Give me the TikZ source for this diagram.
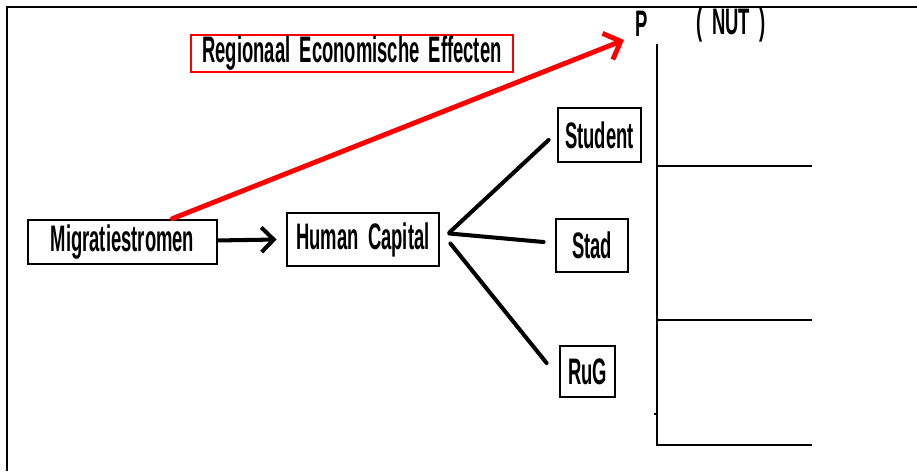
\documentclass[tikz,border=0pt]{standalone}
\usepackage{fontspec}
\setmainfont{Liberation Sans}[FakeStretch=0.5, WordSpace=1.8]
\usetikzlibrary{arrows.meta,positioning}

\begin{document}
\begin{tikzpicture}[x=0.02cm, y=-0.02cm,
  box/.style={draw, line width=1.6pt, inner sep=0pt, align=center},
  redbox/.style={draw=red, line width=1pt, inner sep=0pt, align=center},
  link/.style={line width=2.3pt, line cap=round},
  arr/.style={-{Straight Barb[length=7pt, width=14pt]}, line width=2.3pt, line cap=round},
  redarr/.style={-{Straight Barb[length=8pt, width=16pt]}, line width=2.8pt, red, line cap=round},
  axis/.style={line width=1.1pt},
  every node/.style={font=\bfseries\fontsize{21}{24}\selectfont}
]
\useasboundingbox (0,0) rectangle (917,471);

% Frame
\draw[line width=1.4pt] (7,471) -- (7,7) -- (917,7);

% Title
\node[redbox, minimum width=6.44cm, minimum height=0.74cm] (reg) at (352,53.5) {Regionaal Economische Effecten};

% Chain
\node[box, minimum width=3.78cm, minimum height=0.88cm] (mig) at (122.5,242) {Migratiestromen};
\node[box, minimum width=3.04cm, minimum height=1.06cm] (hc) at (363,239.5) {Human Capital};
\draw[arr] (mig) -- ([xshift=-0.18cm]hc.west);

% Branches
\node[box, minimum width=1.66cm, minimum height=1.08cm] (stu) at (599.5,135) {Student};
\node[box, minimum width=1.44cm, minimum height=1.06cm] (stad) at (592,245.5) {Stad};
\node[box, minimum width=1.1cm, minimum height=1.02cm] (rug) at (587.5,371.5) {RuG};

\draw[link] ([shift={(9,-7)}]hc.east) -- ([shift={(-8,5)}]stu.west);
\draw[link] ([shift={(9,-6)}]hc.east) -- ([shift={(-11,-3.5)}]stad.west);
\draw[link] ([shift={(10,4)}]hc.east) -- ([shift={(-12,-8.5)}]rug.west);

% Axis
\node (p) at (642,24) {P};
\node (nut) at (731,25) {( NUT )};
\coordinate (ptip) at (624,40);
\draw[redarr] ([xshift=1cm]mig.north) -- (ptip);

\draw[axis] (657,44) -- (657,445) -- (812,445);
\draw[axis] (657,166) -- (812,166);
\draw[axis] (657,320) -- (812,320);
\draw[axis] (654,414) -- (657,414);

\end{tikzpicture}
\end{document}
